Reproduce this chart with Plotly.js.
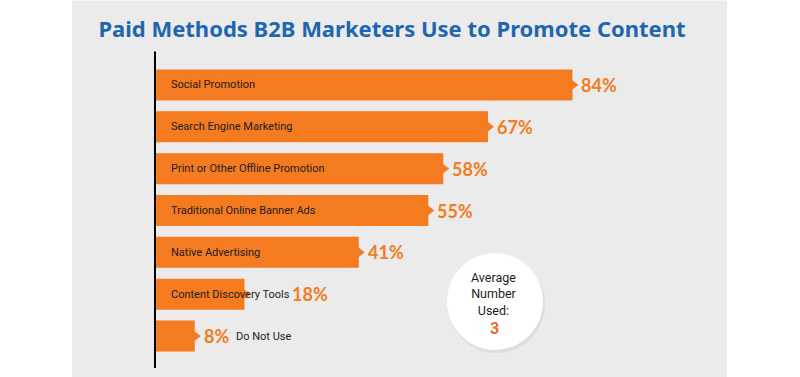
<!DOCTYPE html>
<html>
<head>
<meta charset="utf-8">
<script src="https://cdn.plot.ly/plotly-3.0.1.min.js"></script>
<style>
  html, body { margin: 0; padding: 0; background: #ffffff; }
  #chart { width: 800px; height: 377px; }
</style>
</head>
<body>
<div id="chart"></div>
<script>
// ---- data ----
const categories = [
  "Social Promotion",
  "Search Engine Marketing",
  "Print or Other Offline Promotion",
  "Traditional Online Banner Ads",
  "Native Advertising",
  "Content Discovery Tools",
  "Do Not Use"
];
const values = [84, 67, 58, 55, 41, 18, 8];
const valueLabels = ["84%", "67%", "58%", "55%", "41%", "18%", "8%"];
const titleText = "Paid Methods B2B Marketers Use to Promote Content";
const badgeLines = ["Average", "Number", "Used:"];
const badgeValue = "3";

// ---- style ----
const ORANGE = "#f47b20";
const BLUE = "#1f66b1";
const DARK = "#1e1b1c";
const LABEL_FONT = "Roboto, sans-serif";
const BOLD = "Lato, Noto Sans, sans-serif";

// plot area geometry (pixels)
const L = 155, W = 497, T = 63.5, H = 293.5;
const px2x = p => (p - L) / W;
const py2y = p => (T + H - p) / H;

const bars = {
  type: "bar",
  orientation: "h",
  x: values,
  y: categories,
  width: 0.74,
  marker: { color: ORANGE },
  hoverinfo: "skip"
};
const tips = {
  type: "scatter",
  mode: "markers",
  x: values,
  y: categories,
  marker: { symbol: "triangle-right", size: 12, color: ORANGE },
  hoverinfo: "skip",
  cliponaxis: false
};

const annotations = [];
categories.forEach((c, i) => {
  const last = i === categories.length - 1;
  const overflow = (c === "Content Discovery Tools");
  // percent label
  annotations.push({
    x: values[i], y: c, xref: "x", yref: "y",
    text: "<b>" + valueLabels[i] + "</b>",
    showarrow: false, xanchor: "left", yanchor: "middle",
    xshift: overflow ? 46 : 7,
    font: { family: BOLD, size: 18, color: ORANGE }
  });
  // category label
  if (last) {
    annotations.push({
      x: values[i], y: c, xref: "x", yref: "y",
      text: c, showarrow: false, xanchor: "left", yanchor: "middle",
      xshift: 39,
      font: { family: LABEL_FONT, size: 11, color: DARK }
    });
  } else {
    annotations.push({
      x: 0, y: c, xref: "x", yref: "y",
      text: c, showarrow: false, xanchor: "left", yanchor: "middle",
      xshift: 14,
      font: { family: LABEL_FONT, size: 11, color: DARK }
    });
  }
});

// badge text
annotations.push({
  x: px2x(494), y: py2y(294), xref: "paper", yref: "paper",
  text: badgeLines.join("<br>"),
  showarrow: false, xanchor: "center", yanchor: "middle", align: "center",
  font: { family: "Roboto, sans-serif", size: 12.5, color: DARK }
});
annotations.push({
  x: px2x(494), y: py2y(328), xref: "paper", yref: "paper",
  text: "<b>" + badgeValue + "</b>",
  showarrow: false, xanchor: "center", yanchor: "middle",
  font: { family: "Roboto, sans-serif", size: 16, color: "#f26a21" }
});

const shapes = [
  // gray panel
  { type: "rect", xref: "paper", yref: "paper", layer: "below",
    x0: px2x(72), x1: px2x(727), y0: py2y(377), y1: py2y(0),
    fillcolor: "#ebebeb", line: { width: 0 } },
  // axis line
  { type: "line", xref: "paper", yref: "paper", layer: "above",
    x0: px2x(155), x1: px2x(155), y0: py2y(51), y1: py2y(368),
    line: { color: "#000000", width: 2 } },
  // badge shadow
  { type: "circle", xref: "paper", yref: "paper", layer: "above",
    x0: px2x(448), x1: px2x(545), y0: py2y(353), y1: py2y(255),
    fillcolor: "rgba(0,0,0,0.06)", line: { width: 0 } },
  // badge
  { type: "circle", xref: "paper", yref: "paper", layer: "above",
    x0: px2x(447), x1: px2x(543), y0: py2y(350), y1: py2y(253),
    fillcolor: "#ffffff", line: { width: 0 } }
];

const layout = {
  width: 800, height: 377,
  margin: { l: L, r: 800 - L - W, t: T, b: 377 - T - H, pad: 0 },
  paper_bgcolor: "#ffffff",
  plot_bgcolor: "rgba(0,0,0,0)",
  showlegend: false,
  title: {
    text: "<b>" + titleText + "</b>",
    xref: "paper", x: px2x(392), xanchor: "center",
    yref: "container", y: 1 - 29 / 377, yanchor: "middle",
    font: { family: "Noto Sans, sans-serif", size: 22, color: BLUE }
  },
  xaxis: { range: [0, 100], visible: false, fixedrange: true },
  yaxis: {
    type: "category", categoryorder: "array", categoryarray: categories,
    range: [categories.length - 0.5, -0.5],
    visible: false, fixedrange: true
  },
  bargap: 0.26,
  shapes: shapes,
  annotations: annotations
};

Plotly.newPlot("chart", [bars, tips], layout, { displayModeBar: false, staticPlot: true });
</script>
</body>
</html>
